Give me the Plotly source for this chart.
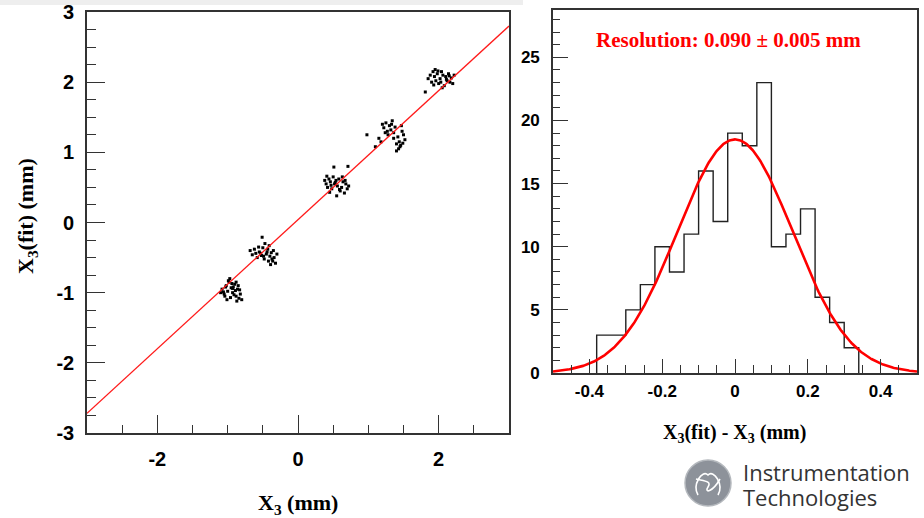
import numpy as np
import plotly.graph_objects as go

# ---------------- data ----------------
# Fitted vs true X3 positions (mm), five scan points
x3_true = [
    # around -1.0
    -1.08, -1.05, -1.02, -1.00, -0.98, -0.95, -0.93, -0.90, -0.88, -0.86,
    -0.84, -0.82, -1.04, -0.97, -0.92, -0.89, -0.85, -1.06, -1.01, -0.94,
    -0.91, -0.87, -0.83, -0.99, -0.96, -1.03, -0.88, -0.93, -0.80, -1.10,
    # around -0.5
    -0.68, -0.65, -0.62, -0.60, -0.58, -0.55, -0.52, -0.50, -0.48, -0.45,
    -0.43, -0.40, -0.38, -0.36, -0.34, -0.32, -0.30, -0.51, -0.47, -0.42,
    -0.39, -0.56, -0.44, -0.35, -0.49, -0.41, -0.37, -0.53,
    # around 0.55
    0.38, 0.40, 0.42, 0.44, 0.46, 0.48, 0.50, 0.52, 0.54, 0.56,
    0.58, 0.60, 0.62, 0.64, 0.66, 0.68, 0.70, 0.72, 0.51, 0.71,
    0.45, 0.55, 0.63, 0.47, 0.59, 0.67, 0.41, 0.53,
    # around 1.35
    0.98, 1.10, 1.15, 1.18, 1.20, 1.22, 1.25, 1.27, 1.30, 1.32,
    1.34, 1.36, 1.38, 1.40, 1.42, 1.44, 1.46, 1.48, 1.50, 1.52,
    1.40, 1.43, 1.47, 1.36, 1.28, 1.45, 1.49, 1.24, 1.33,
    # around 2.0
    1.81, 1.85, 1.88, 1.90, 1.92, 1.94, 1.96, 1.98, 2.00, 2.02,
    2.04, 2.06, 2.08, 2.10, 2.12, 2.14, 2.16, 2.18, 2.20, 2.22,
    1.95, 2.05, 2.11, 1.99, 2.15, 2.03, 1.93,
]
x3_fit = [
    -0.95, -1.02, -0.90, -0.98, -0.85, -0.93, -1.00, -0.88, -1.05, -0.95,
    -1.08, -1.02, -1.05, -0.80, -0.92, -0.97, -0.90, -0.99, -1.10, -0.87,
    -1.03, -1.12, -0.96, -0.83, -1.07, -0.92, -0.85, -0.94, -1.10, -1.00,
    -0.40, -0.46, -0.38, -0.44, -0.50, -0.42, -0.47, -0.36, -0.52, -0.45,
    -0.38, -0.48, -0.43, -0.55, -0.50, -0.58, -0.45, -0.21, -0.30, -0.55,
    -0.60, -0.35, -0.42, -0.40, -0.48, -0.33, -0.52, -0.44,
    0.60, 0.55, 0.50, 0.62, 0.58, 0.48, 0.65, 0.55, 0.60, 0.52,
    0.62, 0.45, 0.50, 0.58, 0.42, 0.55, 0.48, 0.52, 0.79, 0.80,
    0.43, 0.38, 0.65, 0.53, 0.47, 0.60, 0.66, 0.57,
    1.25, 1.08, 1.20, 1.15, 1.40, 1.35, 1.42, 1.30, 1.38, 1.32,
    1.45, 1.28, 1.36, 1.02, 1.22, 1.15, 1.10, 1.30, 1.25, 1.18,
    1.12, 1.05, 1.38, 1.20, 1.25, 1.08, 1.13, 1.28, 1.40,
    1.86, 2.05, 2.10, 2.00, 2.15, 2.08, 2.02, 2.12, 1.98, 2.05,
    2.15, 2.10, 1.95, 2.08, 2.02, 2.12, 2.00, 2.06, 1.98, 2.10,
    2.18, 1.92, 2.04, 2.16, 2.09, 2.00, 1.96,
]

# Linear fit of X3(fit) vs X3
line_slope = 0.92
line_intercept = 0.04
line_x = [-3.0, 3.0]

# Residual histogram: X3(fit) - X3 (mm)
hist_first_edge = -0.38
hist_bin_width = 0.04
hist_counts = [3, 3, 5, 7, 10, 8, 11, 16, 12, 19, 18, 23, 10, 11, 13, 6, 4, 2]

# Gaussian fit drawn over the histogram
gauss_amp = 18.5
gauss_mean = 0.0
gauss_sigma = 0.158
resolution_text = "Resolution: 0.090 \u00b1 0.005 mm"

# tick labels (plain hyphen for negatives)
scatter_x_ticks = [-2, 0, 2]
scatter_x_labels = ["-2", "0", "2"]
scatter_y_ticks = [-3, -2, -1, 0, 1, 2, 3]
scatter_y_labels = ["-3", "-2", "-1", "0", "1", "2", "3"]
hist_x_ticks = [-0.4, -0.2, 0, 0.2, 0.4]
hist_x_labels = ["-0.4", "-0.2", "0", "0.2", "0.4"]
hist_y_ticks = [0, 5, 10, 15, 20, 25]
hist_y_labels = ["0", "5", "10", "15", "20", "25"]

# ---------------- figure ----------------
W, H = 924, 518


def fx(p):
    return p / W


def fy(p):
    return 1 - p / H


fig = go.Figure()

fig.add_trace(go.Scatter(
    x=x3_true, y=x3_fit, mode="markers",
    marker=dict(symbol="square", size=3, color="black", line=dict(width=0)),
    xaxis="x", yaxis="y", showlegend=False, hoverinfo="skip"))

fig.add_trace(go.Scatter(
    x=line_x, y=[line_slope * v + line_intercept for v in line_x], mode="lines",
    line=dict(color="#ff1a1a", width=1.3),
    xaxis="x", yaxis="y", showlegend=False))

# step outline of the histogram
edges = [hist_first_edge + i * hist_bin_width for i in range(len(hist_counts) + 1)]
step_x = [edges[0]] + edges
step_y = [0] + hist_counts + [0]
fig.add_trace(go.Scatter(
    x=step_x, y=step_y, mode="lines", line_shape="hv",
    line=dict(color="#222222", width=1.4),
    xaxis="x2", yaxis="y2", showlegend=False))

gx = np.linspace(-0.5, 0.5, 401)
gy = gauss_amp * np.exp(-0.5 * ((gx - gauss_mean) / gauss_sigma) ** 2)
fig.add_trace(go.Scatter(
    x=gx, y=gy, mode="lines", line=dict(color="#ff0000", width=2.6),
    xaxis="x2", yaxis="y2", showlegend=False))

axis_line = dict(showline=True, linecolor="#333333", linewidth=1.6, mirror=True,
                 showgrid=False, zeroline=False, ticks="inside",
                 tickcolor="#333333", tickwidth=1.3, automargin=False)
big_font = dict(family="Liberation Sans", size=20, color="black", weight="bold")
small_font = dict(family="Liberation Sans", size=17, color="black", weight="bold")

fig.update_layout(
    width=W, height=H,
    margin=dict(l=0, r=0, t=0, b=0, autoexpand=False),
    paper_bgcolor="white", plot_bgcolor="white",
    xaxis=dict(domain=[fx(87), fx(509)], range=[-3, 3],
               tickvals=scatter_x_ticks, ticktext=scatter_x_labels,
               ticklen=18, ticklabelstandoff=7,
               minor=dict(ticks="inside", dtick=0.5, tick0=0, ticklen=8,
                          tickcolor="#333333", tickwidth=1.3),
               tickfont=big_font, anchor="y", **axis_line),
    yaxis=dict(domain=[fy(433), fy(12)], range=[-3, 3],
               tickvals=scatter_y_ticks, ticktext=scatter_y_labels,
               ticklen=18, ticklabelstandoff=7,
               minor=dict(ticks="inside", dtick=0.25, tick0=0, ticklen=9,
                          tickcolor="#333333", tickwidth=1.3),
               tickfont=big_font, anchor="x", **axis_line),
    xaxis2=dict(domain=[fx(553), fx(917)], range=[-0.5, 0.5],
                tickvals=hist_x_ticks, ticktext=hist_x_labels,
                ticklen=14, ticklabelstandoff=2,
                minor=dict(ticks="inside", dtick=0.05, tick0=0, ticklen=8,
                           tickcolor="#333333", tickwidth=1.3),
                tickfont=small_font, anchor="y2", **axis_line),
    yaxis2=dict(domain=[fy(373), fy(10)], range=[0, 28.75],
                tickvals=hist_y_ticks, ticktext=hist_y_labels,
                ticklen=15, ticklabelstandoff=8,
                minor=dict(ticks="inside", dtick=1, tick0=0, ticklen=7,
                           tickcolor="#333333", tickwidth=1.3),
                tickfont=small_font, anchor="x2", **axis_line),
)

serif = "Liberation Serif"
fig.add_annotation(x=fx(298), y=fy(504), xref="paper", yref="paper",
                   xanchor="center", yanchor="middle",
                   text="<b>X<sub>3</sub> (mm)</b>", showarrow=False,
                   font=dict(family=serif, size=22, color="black"))
fig.add_annotation(x=fx(27), y=fy(216), xref="paper", yref="paper",
                   xanchor="center", yanchor="middle",
                   text="<b>X<sub>3</sub>(fit) (mm)</b>", showarrow=False, textangle=-90,
                   font=dict(family=serif, size=22, color="black"))
fig.add_annotation(x=fx(734), y=fy(433), xref="paper", yref="paper",
                   xanchor="center", yanchor="middle",
                   text="<b>X<sub>3</sub>(fit) - X<sub>3</sub> (mm)</b>", showarrow=False,
                   font=dict(family=serif, size=20, color="black"))
fig.add_annotation(x=fx(728), y=fy(40), xref="paper", yref="paper",
                   xanchor="center", yanchor="middle",
                   text="<b>" + resolution_text + "</b>", showarrow=False,
                   font=dict(family=serif, size=21, color="#ff0000"))

# thin grey strip along the top edge
fig.add_shape(type="rect", xref="paper", yref="paper",
              x0=0, x1=fx(523), y0=fy(5), y1=1,
              fillcolor="#eeeeee", line=dict(width=0), layer="below")

# company logo: grey disc with a white knot, and the name beside it
cx, cy, r = 708, 483, 23
fig.add_shape(type="circle", xref="paper", yref="paper",
              x0=fx(cx - r), x1=fx(cx + r), y0=fy(cy + r), y1=fy(cy - r),
              fillcolor="#8d929a", line=dict(color="#b4b8bd", width=1.5))
knots = [
    ((cx - 10, cy + 12), (cx - 16, cy + 2), (cx - 6, cy - 14), (cx, cy - 8),
     (cx + 6, cy - 14), (cx + 16, cy + 2), (cx + 10, cy + 12)),
    ((cx - 12, cy - 4), (cx - 4, cy - 2), (cx + 4, cy - 2), (cx, cy + 4),
     (cx - 4, cy + 10), (cx + 4, cy + 10), (cx + 12, cy - 4)),
]
for p in knots:
    path = "M {} {} C {} {} {} {} {} {} C {} {} {} {} {} {}".format(
        fx(p[0][0]), fy(p[0][1]), fx(p[1][0]), fy(p[1][1]), fx(p[2][0]), fy(p[2][1]),
        fx(p[3][0]), fy(p[3][1]), fx(p[4][0]), fy(p[4][1]), fx(p[5][0]), fy(p[5][1]),
        fx(p[6][0]), fy(p[6][1]))
    fig.add_shape(type="path", xref="paper", yref="paper", path=path,
                  line=dict(color="white", width=1.6))
fig.add_annotation(x=fx(741), y=fy(472), xref="paper", yref="paper",
                   xanchor="left", yanchor="middle",
                   text="Instrumentation", showarrow=False,
                   font=dict(family="Open Sans", size=22, color="#333333"))
fig.add_annotation(x=fx(741), y=fy(497), xref="paper", yref="paper",
                   xanchor="left", yanchor="middle",
                   text="Technologies", showarrow=False,
                   font=dict(family="Open Sans", size=22, color="#333333"))

fig.write_html("out.html")
